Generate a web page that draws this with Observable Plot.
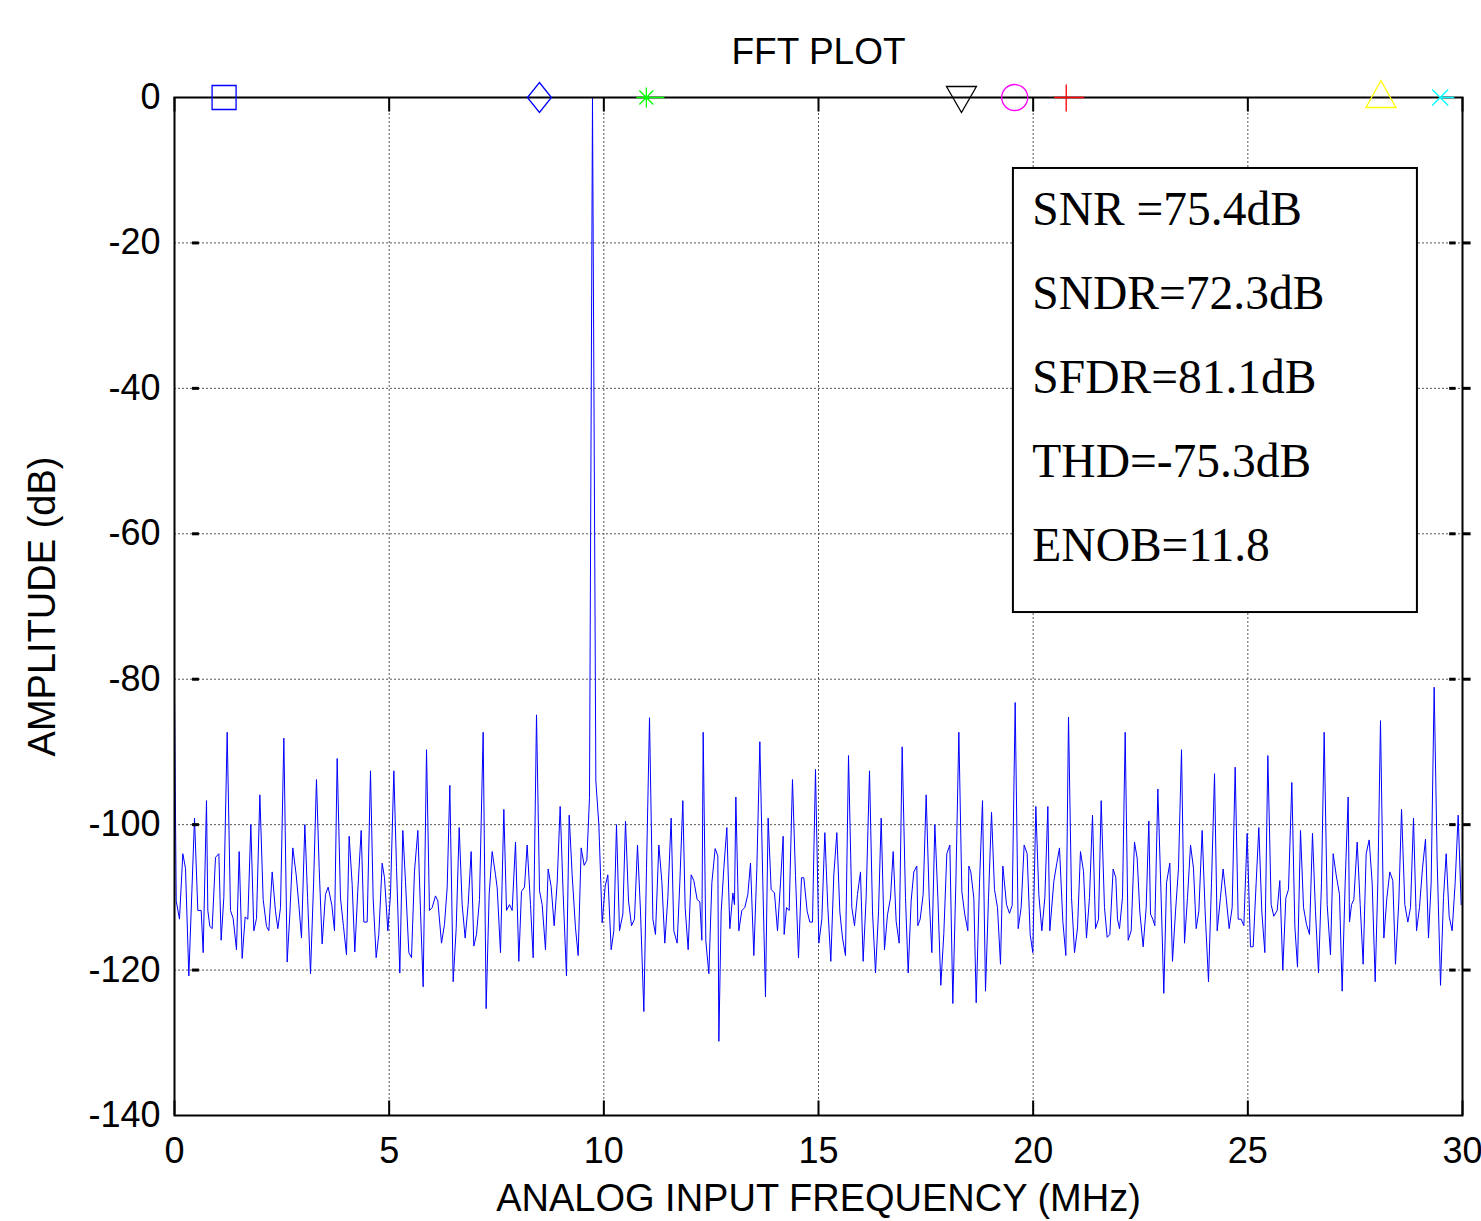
<!DOCTYPE html>
<html>
<head>
<meta charset="utf-8">
<script src="https://cdn.jsdelivr.net/npm/d3@7"></script>
<script src="https://cdn.jsdelivr.net/npm/@observablehq/plot@0.6"></script>
<style>
  html, body { margin: 0; padding: 0; background: #fff; }
  #chart svg { display: block; }
</style>
</head>
<body>
<div id="chart"></div>
<script>
// ---------------- data ----------------
const title = "FFT PLOT";
const xLabel = "ANALOG INPUT FREQUENCY (MHz)";
const yLabel = "AMPLITUDE (dB)";
const xTicks = [0, 5, 10, 15, 20, 25, 30];
const yTicks = [0, -20, -40, -60, -80, -100, -120, -140];
const stats = ["SNR =75.4dB", "SNDR=72.3dB", "SFDR=81.1dB", "THD=-75.3dB", "ENOB=11.8"];

// FFT spectrum, frequency (MHz) and amplitude (dB)
const freqs = [
0,0.04,0.116,0.194,0.256,0.334,0.466,0.543,0.621,0.668,0.745,0.776,0.823,0.877,0.955,1.033,1.087,1.149,1.227,1.304,1.366,1.444,1.506,1.576,1.646,1.708,1.778,1.848,1.910,1.988,2.065,2.143,2.197,2.275,2.352,2.407,2.469,2.547,2.624,2.686,2.756,2.834,2.896,2.958,3.036,3.10,3.168,3.24,3.307,3.37,3.439,3.517,3.579,3.665,3.727,
3.789,3.866,3.936,4.006,4.068,4.138,4.200,4.27,4.348,4.410,4.488,4.565,4.627,4.697,4.759,4.837,4.891,4.969,5.031,5.109,5.171,5.248,5.318,5.380,5.458,5.520,5.590,5.668,5.730,5.792,5.870,5.939,6.002,6.079,6.134,6.219,6.289,6.351,6.413,6.491,6.561,6.631,6.700,6.770,6.840,6.910,6.972,7.034,7.104,7.189,7.259,7.329,7.399,7.477,
7.516,7.593,7.671,7.733,7.803,7.865,7.943,8.020,8.082,8.152,8.214,8.292,8.354,8.432,8.502,8.564,8.641,8.703,8.773,8.843,8.913,8.983,9.053,9.130,9.193,9.262,9.340,9.402,9.472,9.542,9.604,9.666,9.736,9.814,9.884,9.961,10.031,10.093,10.171,10.233,10.295,10.365,10.443,10.505,10.575,10.645,10.714,10.784,10.854,10.932,10.994,11.064,11.142,11.203,
11.281,11.351,11.420,11.491,11.568,11.630,11.708,11.770,11.840,11.894,11.964,12.034,12.096,12.174,12.236,12.283,12.314,12.376,12.446,12.516,12.593,12.655,12.679,12.733,12.795,12.865,12.935,13.005,13.043,13.075,13.144,13.214,13.284,13.354,13.416,13.494,13.564,13.634,13.703,13.765,13.827,13.897,13.975,14.045,14.115,14.177,14.200,14.255,14.317,14.394,14.464,14.534,14.604,14.658,14.736,14.798,14.860,14.930,
15.008,15.078,15.148,15.217,15.287,15.357,15.427,15.497,15.559,15.629,15.699,15.776,15.839,15.908,15.978,16.040,16.110,16.188,16.258,16.328,16.398,16.460,16.537,16.607,16.677,16.739,16.809,16.879,16.949,17.026,17.089,17.158,17.220,17.290,17.314,17.368,17.438,17.508,17.578,17.640,17.710,17.780,17.849,17.919,17.989,18.059,18.129,18.199,18.269,18.339,18.408,18.478,18.502,18.548,18.618,18.673,
18.750,18.820,18.890,18.960,19.030,19.099,19.169,19.239,19.294,19.379,19.449,19.511,19.581,19.651,19.720,19.790,19.860,19.930,19.992,20.062,20.132,20.202,20.272,20.342,20.388,20.481,20.551,20.613,20.691,20.761,20.823,20.893,20.963,21.033,21.102,21.172,21.242,21.312,21.382,21.452,21.522,21.584,21.661,21.724,21.786,21.863,21.925,21.964,22.011,22.081,22.143,22.213,22.283,22.360,
22.422,22.484,22.562,22.632,22.694,22.733,22.787,22.834,22.904,22.974,23.043,23.106,23.183,23.245,23.315,23.385,23.455,23.525,23.595,23.665,23.734,23.797,23.859,23.936,24.006,24.084,24.154,24.224,24.286,24.363,24.425,24.495,24.565,24.635,24.705,24.775,24.845,24.907,24.984,25.062,25.124,25.194,25.256,25.326,25.396,25.466,25.543,25.606,25.683,25.745,25.815,25.885,25.947,26.025,26.095,
26.157,26.227,26.297,26.366,26.436,26.506,26.576,26.646,26.716,26.778,26.848,26.925,26.988,27.057,27.135,27.197,27.267,27.337,27.368,27.415,27.469,27.547,27.617,27.686,27.756,27.826,27.896,27.966,28.028,28.090,28.168,28.238,28.307,28.377,28.439,28.517,28.580,28.657,28.727,28.789,28.859,28.929,28.998,29.068,29.138,29.208,29.270,29.340,29.410,29.488,29.558,29.620,29.689,29.759,29.829,29.899,29.969
];
const amps = [
-82,-110.5,-113,-104,-106,-120.8,-99.1,-111.8,-111.8,-117.6,-96.7,-111.8,-114,-114.3,-104.5,-104,-115.9,-110,-87.3,-111.8,-112.9,-117.2,-103.7,-118.4,-112.7,-113,-100,-114.6,-112.9,-95.9,-110.3,-114,-114.6,-106.5,-111.9,-114.3,-111.4,-88.1,-118.9,-112.4,-103.2,-106.9,-111,-115.6,-100,-110,-120.5,-108,-93.8,-106,-116.4,-109.6,-108.6,-111.1,-114.6,
-90.9,-110.1,-114,-117.9,-101.6,-108.2,-117.5,-109,-100.8,-113.4,-113.4,-92.6,-110.1,-118.3,-115.1,-105.3,-107.3,-114.6,-109.6,-92.6,-105.9,-120.4,-100.8,-107.8,-117.6,-118.3,-106.4,-100.8,-111.9,-122.3,-89.7,-111.8,-111.4,-109.8,-110.5,-116.3,-113.7,-108.7,-94.6,-121.6,-114.3,-100.4,-111,-115.6,-111,-103.7,-116.7,-115.1,-110.3,-87.3,-125.3,-109.6,-103.7,-106.9,
-108.7,-117.6,-97.9,-111.8,-111,-111.8,-102.4,-118.8,-109.2,-108.6,-102.8,-111,-118.3,-84.9,-109.1,-111,-117.2,-106.1,-108.5,-113.9,-108,-97.5,-109.6,-120.8,-98.7,-106.9,-114.2,-118,-103.2,-105.6,-104.9,-96.3,0,-94,-100,-113.5,-108.5,-106.9,-117.2,-114.6,-100,-114.6,-112.3,-99.5,-110.5,-113.9,-113,-102.8,-111.9,-125.7,-106,-85.3,-113,-115.1,
-102.8,-107.8,-116.3,-110,-99.1,-114.6,-116.3,-108,-96.7,-111.4,-117.2,-106.9,-107.7,-110.3,-110.6,-115.9,-87.3,-116,-120.5,-108,-103.3,-104.3,-129.8,-112,-106,-100.4,-114.3,-109.4,-111,-96.2,-114.6,-111.8,-111.4,-109.6,-105.3,-118,-106,-88.6,-108,-123.7,-99.1,-108.9,-109.4,-114.6,-108,-101.6,-115.1,-111.4,-111.8,-93.8,-107,-118.3,-107.3,-107.3,-111.9,-113.4,-113.4,-92.4,
-116.3,-113,-101.1,-111.4,-118.8,-106.9,-101.1,-112,-115.6,-118,-90.5,-111.4,-113.9,-109.6,-106.5,-118.8,-110,-92.6,-112,-120.4,-112,-99.1,-117.2,-112.4,-110.1,-103.7,-113.3,-116.3,-89.3,-110,-120.4,-110.5,-106.5,-105.7,-113.9,-113,-109.6,-95.9,-110,-117.6,-100,-110,-122.1,-115,-104,-102.8,-124.6,-108,-87.3,-109.2,-112.4,-114.6,-105.7,-106.5,-110.1,-124.5,
-108,-96.7,-122.9,-110,-98.3,-108.9,-111.4,-119.2,-105.7,-111,-112.2,-111.1,-83.2,-114.3,-111.4,-102.8,-104,-115.1,-117.6,-97.5,-109.6,-114.6,-110,-97.5,-114.6,-107.8,-105.3,-103.2,-113.3,-118,-85.2,-110,-117.6,-114.2,-103.7,-106.4,-115.6,-110,-98.7,-114.3,-113,-96.7,-111.4,-115.5,-115.1,-106.1,-107.3,-113,-114.3,-110,-87.3,-115.9,-114.6,-102.4,
-104.6,-112,-116.8,-111.4,-99.5,-112.3,-113,-113.9,-95.1,-108.7,-123.2,-108,-105.3,-118.8,-112,-106,-89.7,-116.3,-110,-102.8,-106,-114.3,-111.9,-100.8,-112,-121.6,-108,-93,-114.6,-110,-106.1,-110,-114.3,-111.4,-92.1,-113,-113,-113.9,-101.2,-116.8,-116.8,-108,-100.4,-112,-117.6,-90.5,-111,-112.6,-111.8,-107.7,-120,-110.1,-108.9,-94.2,-114,
-119.6,-100.8,-111.4,-113.7,-115.1,-101.2,-112,-120.4,-108,-87.3,-111,-117.9,-104,-106.9,-109.6,-122.9,-108,-96.2,-113.4,-111,-110.3,-102.4,-111,-119.2,-104,-102.1,-108,-121.6,-108,-85.7,-115.6,-110.1,-106.5,-107.7,-119.2,-110.5,-97.9,-111,-113.4,-111.4,-99.1,-114.6,-111.4,-106,-102,-115.6,-108,-81.1,-105,-122.1,-110,-104,-112.6,-114.6,-108,-98.7,-111
];

// harmonic markers along the 0 dB line
const markerFreqs = [1.155, 8.50, 10.99, 18.33, 19.57, 20.77, 28.10, 29.48];
const markerShapes = ["square", "diamond", "asterisk", "triangleDown", "circle", "plus", "triangleUp", "times"];
const markerColors = ["#0000ff", "#0000ff", "#00ff00", "#000000", "#ff00ff", "#ff0000", "#ffff00", "#00ffff"];

// ---------------- chart ----------------
const spectrum = freqs.map((f, i) => ({f, a: amps[i]}));
const markers = markerFreqs.map((f, i) => ({f, a: 0, shape: markerShapes[i], color: markerColors[i]}));

const shapes = {
  square: {draw(c) { c.moveTo(-12, -12); c.lineTo(12, -12); c.lineTo(12, 12); c.lineTo(-12, 12); c.closePath(); }},
  diamond: {draw(c) { c.moveTo(0, -15); c.lineTo(12, 0); c.lineTo(0, 15); c.lineTo(-12, 0); c.closePath(); }},
  asterisk: {draw(c) {
    c.moveTo(0, -10); c.lineTo(0, 10); c.moveTo(-10, 0); c.lineTo(18, 0);
    c.moveTo(-7, -7); c.lineTo(7, 7); c.moveTo(-7, 7); c.lineTo(7, -7);
  }},
  triangleDown: {draw(c) { c.moveTo(-15, -11); c.lineTo(15, -11); c.lineTo(0, 15); c.closePath(); }},
  circle: {draw(c) { c.moveTo(13, 0); c.arc(0, 0, 13, 0, 2 * Math.PI); }},
  plus: {draw(c) { c.moveTo(0, -13); c.lineTo(0, 14); c.moveTo(-12, 0); c.lineTo(18, 0); }},
  triangleUp: {draw(c) { c.moveTo(0, -17); c.lineTo(15, 10); c.lineTo(-15, 10); c.closePath(); }},
  times: {draw(c) { c.moveTo(-8, -8); c.lineTo(8, 8); c.moveTo(-8, 8); c.lineTo(8, -8); c.moveTo(0, 0); c.lineTo(14, 0); }}
};

const innerX = xTicks;
const innerY = yTicks.slice(1, -1);

const chart = Plot.plot({
  width: 1481,
  height: 1221,
  marginTop: 97,
  marginLeft: 174,
  marginRight: 19,
  marginBottom: 106,
  style: {fontFamily: "'Liberation Sans', Arial, sans-serif", background: "#fff", color: "#000"},
  x: {domain: [0, 30]},
  y: {domain: [-140, 0]},
  marks: [
    Plot.gridX(xTicks.slice(1, -1), {stroke: "#555", strokeOpacity: 1, strokeWidth: 1, strokeDasharray: "2,2"}),
    Plot.gridY(yTicks.slice(1, -1), {stroke: "#555", strokeOpacity: 1, strokeWidth: 1, strokeDasharray: "2,2"}),
    Plot.line(spectrum, {x: "f", y: "a", stroke: "#0000ff", strokeWidth: 1}),
    Plot.frame({stroke: "#000", strokeWidth: 2}),
    // small tick dashes
    Plot.ruleY(innerY, {x1: 0.42, x2: 0.58, stroke: "#000", strokeWidth: 3}),
    Plot.ruleY(innerY, {x1: 29.7, x2: 29.85, stroke: "#000", strokeWidth: 3}),
    Plot.ruleY(innerY, {x1: 30.0, x2: 30.2, stroke: "#000", strokeWidth: 3}),
    Plot.ruleX(innerX, {y1: 0, y2: -2, stroke: "#000", strokeWidth: 2}),
    Plot.ruleX(innerX, {y1: -140, y2: -138, stroke: "#000", strokeWidth: 2}),
    Plot.axisX(xTicks, {tickSize: 0, tickPadding: 22, fontSize: 36, label: null, tickFormat: d => String(d)}),
    Plot.axisY(yTicks, {tickSize: 0, tickPadding: 14, fontSize: 36, label: null, tickFormat: d => String(d)}),
    ...markers.map(m => Plot.dot([m], {x: "f", y: "a", symbol: shapes[m.shape], r: 10, fill: "none", stroke: m.color, strokeWidth: 1.3})),
    // stats box
    Plot.rect([0], {x1: 19.54, x2: 28.95, y1: -9.76, y2: -70.83, fill: "#fff", stroke: "#000", strokeWidth: 2}),
    Plot.text(stats, {x: 19.98, y: (d, i) => -15.4 - i * 11.55, text: d => d, textAnchor: "start", fontFamily: "'Liberation Serif', 'Times New Roman', serif", fontSize: 47.5, fill: "#000"}),
    // titles
    Plot.text([title], {frameAnchor: "top", dy: -45, lineAnchor: "middle", fontSize: 37, fill: "#000"}),
    Plot.text([xLabel], {frameAnchor: "bottom", dy: 83, lineAnchor: "middle", fontSize: 38, fill: "#000"}),
    Plot.text([yLabel], {frameAnchor: "left", dx: -132, rotate: -90, textAnchor: "middle", lineAnchor: "middle", fontSize: 38, fill: "#000"})
  ]
});
document.getElementById("chart").appendChild(chart);
</script>
</body>
</html>
